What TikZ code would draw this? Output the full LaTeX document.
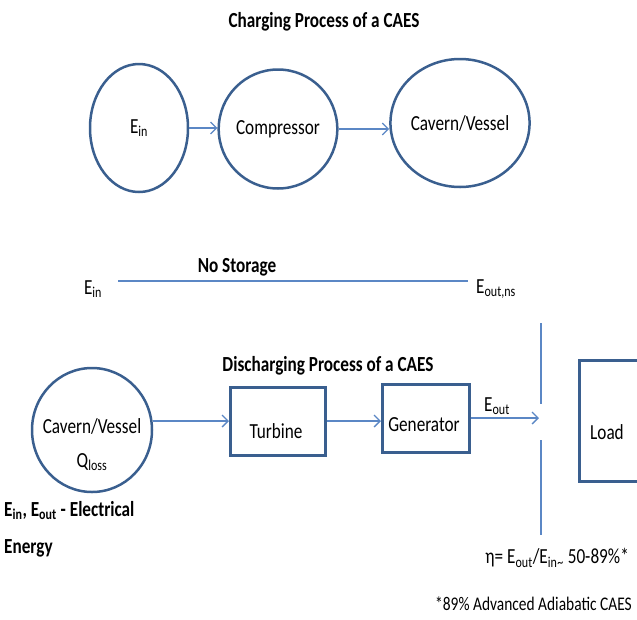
\documentclass[tikz,border=0pt]{standalone}
\usepackage{fontspec}
\setmainfont{Carlito}[FakeStretch=0.8]
\usetikzlibrary{shapes.geometric, arrows.meta}
\definecolor{rim}{HTML}{3A5F8F}
\definecolor{flowline}{HTML}{5B87C5}
\tikzset{>={Straight Barb[length=6pt,width=12pt]}}
\tikzset{
    oval/.style = {ellipse, draw=rim, line width=2.5pt, inner sep=0pt, font=\fontsize{21.5}{25}\selectfont},
    blk/.style = {rectangle, draw=rim, line width=3pt, inner sep=0pt},
    flow/.style = {draw=flowline, line width=1.3pt, ->},
    ttl/.style = {inner sep=0pt, font=\bfseries\fontsize{21.5}{25}\selectfont},
    txt/.style = {inner sep=0pt, font=\fontsize{21.5}{25}\selectfont},
    note/.style = {inner sep=0pt, font=\fontsize{19.3}{23}\selectfont}
}

\begin{document}
\begin{tikzpicture}[x=1pt, y=-1pt]
    \useasboundingbox (0,0) rectangle (637,619);
    \clip (0,0) rectangle (637,619);
    % charging
    \node[ttl] (chgtitle) at (324,22) {Charging Process of a CAES};
    \node[oval, minimum width=98pt, minimum height=128pt] (ein) at (139,128) {E\textsubscript{in}};
    \node[oval, minimum width=105pt, minimum height=119pt] (comp) at (278,129) {Compressor};
    \node[oval, minimum width=120pt, minimum height=128pt] (cav) at (460,123) {Cavern/Vessel};
    \draw[flow] (ein.east) -- (ein.east -| comp.west);
    \draw[flow] (comp.east) -- (comp.east -| cav.west);
    % no storage
    \node[ttl] (nostore) at (237,267) {No Storage};
    \node[txt] (ein2) at (93,289) {E\textsubscript{in}};
    \node[txt, anchor=west] (eoutns) at (476,289) {E\textsubscript{out,ns}};
    \coordinate (nsA) at (118,281);
    \coordinate (nsB) at (468,281);
    \draw[flow, -] (nsA) -- (nsB);
    % discharging
    \node[ttl] (dchtitle) at (328,366) {Discharging Process of a CAES};
    \node[oval, minimum width=120pt, minimum height=124pt] (cav2) at (92,430) {};
    \node[txt] (cavtxt) at (92,426) {Cavern/Vessel};
    \node[txt] (qloss) at (92,462) {Q\textsubscript{loss}};
    \node[blk, minimum width=95pt, minimum height=68pt] (turb) at (278,421) {};
    \node[txt] (turbtxt) at (276,431) {Turbine};
    \node[blk, minimum width=87pt, minimum height=68pt] (gen) at (426,418) {};
    \node[txt] (gentxt) at (424,425) {Generator};
    \node[blk, minimum width=60pt, minimum height=121pt] (load) at (609,421) {};
    \node[txt] (loadtxt) at (607,432) {Load};
    \coordinate (septop) at (541,323);
    \coordinate (sepmidA) at (541,404);
    \coordinate (sepmidB) at (541,440);
    \coordinate (sepbot) at (541,535);
    \draw[flow, -] (septop) -- (sepmidA);
    \draw[flow, -] (sepmidB) -- (sepbot);
    \draw[flow] (turb.west -| cav2.east) -- (turb.west);
    \draw[flow] (turb.east) -- (turb.east -| gen.west);
    \draw[flow, shorten >=2pt] (gen.east) -- (gen.east -| septop);
    \node[txt] (eout) at (497,406) {E\textsubscript{out}};
    % notes
    \node[ttl, anchor=west, align=left, font=\bfseries\fontsize{21.5}{37}\selectfont] (legend) at (4,529) {E\textsubscript{in}, E\textsubscript{out} - Electrical\\Energy};
    \node[note, anchor=east, font=\fontsize{21.5}{25}\selectfont] (eta) at (629,558) {η= E\textsubscript{out}/E\textsubscript{in}\textsubscript{\textasciitilde} 50-89\%*};
    \node[note, anchor=east] (aa) at (632,604) {*89\% Advanced Adiabatic CAES};
\end{tikzpicture}
\end{document}
